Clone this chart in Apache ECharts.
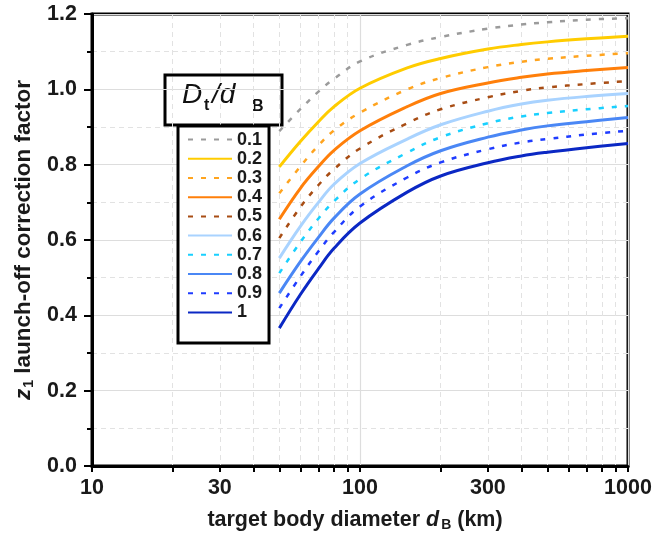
<!DOCTYPE html>
<html>
<head>
<meta charset="utf-8">
<script src="https://cdn.jsdelivr.net/npm/echarts@6/dist/echarts.min.js"></script>
<style>
  html, body { margin: 0; padding: 0; background: #fff; }
  #chart { width: 665px; height: 539px; }
</style>
</head>
<body>
<div id="chart"></div>
<script>
// Target body diameter d_B (km)
const diameters = [50, 60, 70, 80, 100, 150, 200, 300, 400, 500, 700, 1000];

// Launch-off correction factor z1 for each ratio D_t/d_B
const ratioNames = ['0.1', '0.2', '0.3', '0.4', '0.5', '0.6', '0.7', '0.8', '0.9', '1'];
const z1_r01 = [0.889, 0.948, 0.994, 1.028, 1.074, 1.118, 1.139, 1.161, 1.172, 1.178, 1.185, 1.189];
const z1_r02 = [0.794, 0.862, 0.914, 0.954, 1.003, 1.057, 1.082, 1.107, 1.119, 1.126, 1.134, 1.141];
const z1_r03 = [0.724, 0.796, 0.851, 0.891, 0.938, 1.000, 1.030, 1.059, 1.073, 1.081, 1.089, 1.096];
const z1_r04 = [0.655, 0.738, 0.795, 0.838, 0.890, 0.954, 0.989, 1.017, 1.032, 1.041, 1.050, 1.058];
const z1_r05 = [0.605, 0.688, 0.746, 0.788, 0.843, 0.910, 0.947, 0.979, 0.996, 1.005, 1.014, 1.022];
const z1_r06 = [0.552, 0.637, 0.700, 0.748, 0.803, 0.868, 0.906, 0.942, 0.961, 0.971, 0.981, 0.989];
const z1_r07 = [0.512, 0.595, 0.657, 0.703, 0.762, 0.832, 0.873, 0.910, 0.928, 0.937, 0.947, 0.956];
const z1_r08 = [0.459, 0.543, 0.607, 0.658, 0.722, 0.797, 0.837, 0.873, 0.892, 0.903, 0.914, 0.925];
const z1_r09 = [0.419, 0.504, 0.570, 0.621, 0.689, 0.766, 0.806, 0.841, 0.859, 0.868, 0.880, 0.890];
const z1_r10 = [0.366, 0.456, 0.524, 0.578, 0.645, 0.727, 0.770, 0.805, 0.823, 0.833, 0.845, 0.856];
const z1Values = [z1_r01, z1_r02, z1_r03, z1_r04, z1_r05, z1_r06, z1_r07, z1_r08, z1_r09, z1_r10];

// Axis ticks
const xTickValues = [10, 20, 30, 40, 50, 60, 70, 80, 90, 100, 200, 300, 400, 500, 600, 700, 800, 900, 1000];
const xMinorGridValues = [20, 30, 40, 50, 60, 70, 80, 90, 200, 300, 400, 500, 600, 700, 800, 900];
const xLabelValues = [10, 30, 100, 300, 1000];

// Line appearance per ratio
const lineColors = ['#9b9b9b', '#ffcc00', '#ffa41f', '#ff7f0a', '#a84d14',
                    '#a9d3ff', '#19d0ff', '#4a87f5', '#1f3cff', '#0b28c4'];
const dashed = [true, false, true, false, true, false, true, false, true, false];

const FONT = "'Liberation Sans', Arial, sans-serif";
const TXT = '#1a1a1a';

const series = ratioNames.map((name, i) => ({
  name: name,
  type: 'line',
  xAxisIndex: 2,
  yAxisIndex: 0,
  smooth: 0.4,
  symbol: 'none',
  z: 3,
  lineStyle: dashed[i]
    ? { color: lineColors[i], width: 2.5, type: [5, 8] }
    : { color: lineColors[i], width: 3, type: 'solid' },
  itemStyle: { color: lineColors[i] },
  data: diameters.map((d, k) => [d, z1Values[i][k]])
}));

const chart = echarts.init(document.getElementById('chart'), null, { renderer: 'canvas' });

chart.setOption({
  animation: false,
  backgroundColor: '#ffffff',
  textStyle: { fontFamily: FONT },
  grid: {
    left: 92, right: 37, top: 14, bottom: 73,
    show: true, borderColor: '#000', borderWidth: 3, backgroundColor: 'transparent'
  },
  xAxis: [
    {
      // visible scale: ticks and labels at log positions
      type: 'value', min: 1, max: 3, position: 'bottom',
      axisLine: { show: true, onZero: false, lineStyle: { color: '#000', width: 3 } },
      axisTick: {
        show: true, length: 6, lineStyle: { color: '#000', width: 2 },
        customValues: xTickValues.map(v => Math.log10(v))
      },
      axisLabel: {
        show: true, margin: 11, color: TXT, fontSize: 21.5, fontWeight: 'bold', fontFamily: FONT,
        customValues: xLabelValues.map(v => Math.log10(v)),
        formatter: v => String(Math.round(Math.pow(10, v)))
      },
      splitLine: { show: false },
      name: '{t|target body diameter }{i|d}{s|B}{t| (km)}',
      nameLocation: 'middle',
      nameGap: 42,
      nameTextStyle: {
        padding: [0, 10, 0, 0],
        rich: {
          t: { fontSize: 21.5, fontWeight: 'bold', color: TXT, fontFamily: FONT },
          i: { fontSize: 21.5, fontWeight: 'bold', fontStyle: 'italic', color: TXT, fontFamily: FONT },
          s: { fontSize: 14, fontWeight: 'bold', color: TXT, fontFamily: FONT, padding: [10, 0, 0, 2] }
        }
      }
    },
    {
      // dashed minor grid lines
      type: 'value', min: 1, max: 3, position: 'top',
      axisLine: { show: false }, axisLabel: { show: false },
      axisTick: { show: false, customValues: xMinorGridValues.map(v => Math.log10(v)) },
      splitLine: { show: true, lineStyle: { color: '#e2e2e2', width: 1, type: [5, 4] } }
    },
    {
      // data scale (logarithmic), solid decade grid lines
      type: 'log', logBase: 10, min: 10, max: 1000, position: 'bottom',
      axisLine: { show: false }, axisLabel: { show: false }, axisTick: { show: false },
      splitLine: { show: true, lineStyle: { color: '#dddddd', width: 1.2 } }
    }
  ],
  yAxis: {
    type: 'value', min: 0, max: 1.2, interval: 0.2,
    axisLine: { show: true, onZero: false, lineStyle: { color: '#000', width: 3 } },
    axisTick: { show: true, length: 8, lineStyle: { color: '#000', width: 2 } },
    minorTick: { show: true, splitNumber: 2, length: 5, lineStyle: { color: '#000', width: 2 } },
    splitLine: { show: true, lineStyle: { color: '#dddddd', width: 1.2 } },
    minorSplitLine: { show: true, lineStyle: { color: '#e2e2e2', width: 1, type: [5, 4] } },
    axisLabel: {
      margin: 15, color: TXT, fontSize: 21.5, fontWeight: 'bold', fontFamily: FONT,
      formatter: v => v.toFixed(1)
    },
    name: '{zi|z}{s|1}{t| launch-off correction factor}',
    nameLocation: 'middle',
    nameRotate: 90,
    nameGap: 52,
    nameTextStyle: {
      rich: {
        zi: { fontSize: 22.5, fontWeight: 'bold', fontStyle: 'italic', color: TXT, fontFamily: FONT },
        s: { fontSize: 14, fontWeight: 'bold', color: TXT, fontFamily: FONT, padding: [10, 0, 0, 1] },
        t: { fontSize: 22.5, fontWeight: 'bold', color: TXT, fontFamily: FONT }
      }
    }
  },
  legend: {
    orient: 'vertical',
    left: 178, top: 126,
    padding: [4, 7, 21, 9],
    itemWidth: 44, itemHeight: 14, itemGap: 0,
    backgroundColor: '#ffffff',
    borderColor: '#000', borderWidth: 3,
    z: 20,
    itemStyle: { opacity: 0, borderWidth: 0 },
    textStyle: { color: TXT, fontSize: 18, fontWeight: 'bold', fontFamily: FONT, lineHeight: 19.2 },
    data: ratioNames
  },
  graphic: [
    {
      type: 'group', z: 100,
      children: [
        { type: 'rect', shape: { x: 165, y: 75, width: 117, height: 50 },
          style: { fill: '#fff', stroke: '#000', lineWidth: 3 } },
        { type: 'text', x: 182, y: 95,
          style: { text: 'D', font: `italic 28px ${FONT}`, fill: '#111', align: 'left', verticalAlign: 'middle' } },
        { type: 'text', x: 204, y: 106,
          style: { text: 't', font: `bold 16px ${FONT}`, fill: '#111', align: 'left', verticalAlign: 'middle' } },
        { type: 'text', x: 212, y: 95,
          style: { text: '/d', font: `italic 28px ${FONT}`, fill: '#111', align: 'left', verticalAlign: 'middle' } },
        { type: 'text', x: 252, y: 107,
          style: { text: 'B', font: `bold 16px ${FONT}`, fill: '#111', align: 'left', verticalAlign: 'middle' } }
      ]
    }
  ],
  series: series
});
</script>
</body>
</html>
